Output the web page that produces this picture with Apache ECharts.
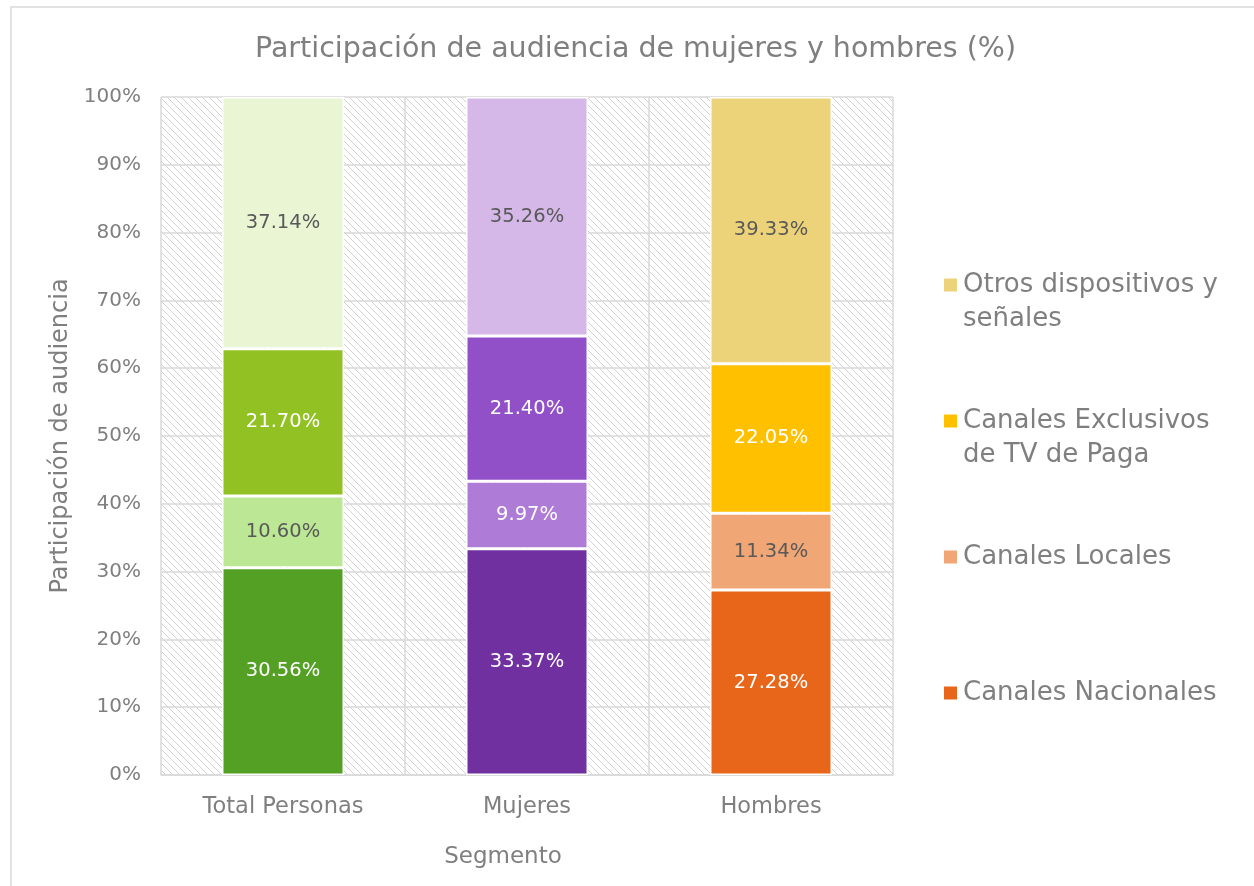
<!DOCTYPE html>
<html>
<head>
<meta charset="utf-8">
<script src="https://cdn.jsdelivr.net/npm/echarts@6/dist/echarts.min.js"></script>
<style>
  html, body { margin: 0; padding: 0; background: #fff; }
  #main { width: 1254px; height: 886px; }
</style>
</head>
<body>
<div id="main"></div>
<script>
// categorias y valores (%)
var categories = ['Total Personas', 'Mujeres', 'Hombres'];
var seriesNames = ['Canales Nacionales', 'Canales Locales', 'Canales Exclusivos de TV de Paga', 'Otros dispositivos y señales'];
var nacionales = [30.56, 33.37, 27.28];
var locales = [10.60, 9.97, 11.34];
var exclusivos = [21.70, 21.40, 22.05];
var otros = [37.14, 35.26, 39.33];
var yTicks = [0, 10, 20, 30, 40, 50, 60, 70, 80, 90, 100];

// colores por segmento (cada barra tiene su propia paleta)
var colors = [
  ['#53a024', '#7030a0', '#e8661a'],
  ['#bce895', '#ae7cd6', '#f0a675'],
  ['#92c124', '#9150c8', '#ffc000'],
  ['#e9f5d3', '#d5b8e8', '#ecd37a']
];
// color de la etiqueta: blanco en tonos oscuros, gris en claros
var labelColors = [
  ['#fff', '#fff', '#fff'],
  ['#595959', '#fff', '#595959'],
  ['#fff', '#fff', '#fff'],
  ['#595959', '#595959', '#595959']
];

var FONT = 'DejaVu Sans';
var GRAY = '#7f7f7f';

// trama diagonal del fondo del area de trazado
function makeHatch() {
  var c = document.createElement('canvas');
  c.width = 7; c.height = 7;
  var ctx = c.getContext('2d');
  ctx.fillStyle = '#fff';
  ctx.fillRect(0, 0, 7, 7);
  ctx.fillStyle = '#d2d2d2';
  for (var i = 0; i < 7; i++) {
    ctx.fillRect(i, i, 1, 1);
  }
  return c;
}

var myChart = echarts.init(document.getElementById('main'), null, { renderer: 'canvas' });

var values = [nacionales, locales, exclusivos, otros];
var series = values.map(function (vals, s) {
  return {
    name: seriesNames[s],
    type: 'bar',
    stack: 'total',
    barWidth: '50%',
    itemStyle: { color: colors[s][2], borderColor: '#fff', borderWidth: 1.5 },
    label: {
      show: true,
      position: 'inside',
      fontFamily: FONT,
      fontSize: 19.5,
      formatter: function (p) { return p.value.toFixed(2) + '%'; }
    },
    data: vals.map(function (v, i) {
      return {
        value: v,
        itemStyle: { color: colors[s][i] },
        label: { color: labelColors[s][i] }
      };
    })
  };
});

// una leyenda por elemento para respetar el espaciado del original
// (linea vacia delante del texto de dos lineas para alinear el icono con la primera)
var legendTops = [676, 540, 370, 234];
var legends = [3, 2, 1, 0].map(function (s) {
  return {
    orient: 'vertical',
    left: 942,
    top: legendTops[s],
    padding: 0,
    itemWidth: 15,
    itemHeight: 15,
    itemGap: 0,
    icon: 'rect',
    selectedMode: false,
    data: [seriesNames[s]],
    formatter: function (name) {
      if (name === seriesNames[3]) return '\nOtros dispositivos y\nseñales';
      if (name === seriesNames[2]) return '\nCanales Exclusivos\nde TV de Paga';
      return name;
    },
    textStyle: {
      fontFamily: FONT,
      fontSize: 26,
      color: GRAY,
      lineHeight: 34
    }
  };
});

myChart.setOption({
  animation: false,
  backgroundColor: '#fff',
  title: {
    text: 'Participación de audiencia de mujeres y hombres (%)',
    left: 250,
    top: 30,
    textStyle: { fontFamily: FONT, fontSize: 28.5, fontWeight: 'normal', color: GRAY }
  },
  legend: legends,
  graphic: [{
    type: 'rect',
    shape: { x: 11, y: 7, width: 1300, height: 1000 },
    style: { fill: 'none', stroke: '#d9d9d9', lineWidth: 1.5 },
    silent: true,
    z: -10
  }],
  grid: {
    left: 161,
    right: 361,
    top: 97,
    bottom: 111,
    show: true,
    borderWidth: 0,
    backgroundColor: { image: makeHatch(), repeat: 'repeat' }
  },
  xAxis: {
    type: 'category',
    data: categories,
    name: 'Segmento',
    nameLocation: 'middle',
    nameGap: 71,
    nameTextStyle: { fontFamily: FONT, fontSize: 23, color: GRAY, padding: [0, 48, 0, 0] },
    axisLine: { lineStyle: { color: '#d9d9d9', width: 1.5 } },
    axisTick: { show: false },
    splitLine: { show: true, lineStyle: { color: '#d9d9d9', width: 1.5 } },
    axisLabel: { fontFamily: FONT, fontSize: 22.5, color: GRAY, margin: 21 }
  },
  yAxis: {
    type: 'value',
    min: yTicks[0],
    max: yTicks[yTicks.length - 1],
    interval: yTicks[1] - yTicks[0],
    name: 'Participación de audiencia',
    nameLocation: 'middle',
    nameGap: 84,
    nameTextStyle: { fontFamily: FONT, fontSize: 24, color: GRAY },
    axisLine: { show: false },
    axisTick: { show: false },
    splitLine: { lineStyle: { color: '#d9d9d9', width: 1.5 } },
    axisLabel: { fontFamily: FONT, fontSize: 20, color: GRAY, margin: 20, formatter: '{value}%' }
  },
  series: series
});
</script>
</body>
</html>
